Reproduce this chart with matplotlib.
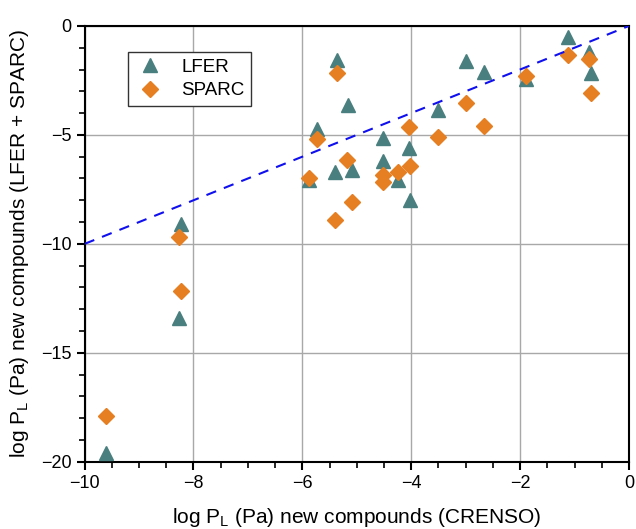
import numpy as np
import matplotlib
matplotlib.use('Agg')
from matplotlib import pyplot as plt
from matplotlib.ticker import MultipleLocator

plt.rcParams['font.family'] = ['Liberation Sans', 'DejaVu Sans']
plt.rcParams['mathtext.default'] = 'regular'

# log PL (CRENSO) vs predicted values
lfer_x = [-9.61, -8.23, -8.26, -5.88, -5.40, -5.09, -4.51, -5.37, -5.17, -5.74, -4.51,
          -4.24, -4.05, -4.02, -3.50, -3.00, -2.67, -1.90, -1.12, -0.74, -0.70]
lfer_y = [-19.6, -9.08, -13.41, -7.05, -6.68, -6.61, -6.18, -1.56, -3.62, -4.74, -5.15,
          -7.09, -5.61, -7.98, -3.85, -1.59, -2.13, -2.45, -0.52, -1.18, -2.17]

sparc_x = [-9.61, -8.26, -8.23, -5.88, -5.18, -5.40, -5.09, -4.51, -4.51, -5.37, -5.74,
           -4.24, -4.05, -4.02, -3.50, -3.00, -2.67, -1.90, -1.12, -0.74, -0.70]
sparc_y = [-17.89, -9.69, -12.16, -6.99, -6.15, -8.90, -8.06, -6.85, -7.16, -2.14, -5.20,
           -6.68, -4.65, -6.45, -5.08, -3.52, -4.59, -2.29, -1.33, -1.51, -3.06]

line_x = [-10, 0]
line_y = [-10, 0]

fig = plt.figure(figsize=(6.36, 5.29), dpi=100)
ax = fig.add_axes([0.133, 0.127, 0.856, 0.824])

ax.grid(True, color='#a8a8a8', linewidth=1)
ax.set_axisbelow(True)

ax.plot(lfer_x, lfer_y, linestyle='none', marker='^', markersize=10,
        color='#4a7f7f', label='LFER', zorder=3)
ax.plot(sparc_x, sparc_y, linestyle='none', marker='D', markersize=8,
        color='#e67e22', label='SPARC', zorder=4)
ax.plot(line_x, line_y, linestyle=(0, (5, 4)), color='#1010ee', linewidth=1.5, zorder=5)

ax.set_xlim(-10, 0)
ax.set_ylim(-20, 0)
ax.xaxis.set_major_locator(MultipleLocator(2))
ax.xaxis.set_minor_locator(MultipleLocator(0.5))
ax.yaxis.set_major_locator(MultipleLocator(5))
ax.yaxis.set_minor_locator(MultipleLocator(1))
ax.tick_params(which='major', direction='out', length=6, width=1.5, labelsize=13)
ax.tick_params(which='minor', direction='out', length=4, width=1.2)
for s in ax.spines.values():
    s.set_linewidth(1.5)

ax.set_xlabel(r'log P$_L$ (Pa) new compounds (CRENSO)', fontsize=15, labelpad=10)
ax.set_ylabel(r'log P$_L$ (Pa) new compounds (LFER + SPARC)', fontsize=15, labelpad=7)

leg = ax.legend(loc='upper left', bbox_to_anchor=(0.08, 0.94), fontsize=13.5,
                fancybox=False, edgecolor='#333333', framealpha=1,
                handlelength=1.6, handletextpad=0.9, borderpad=0.35,
                borderaxespad=0, labelspacing=0.35)

plt.savefig('out.png', dpi=100)
